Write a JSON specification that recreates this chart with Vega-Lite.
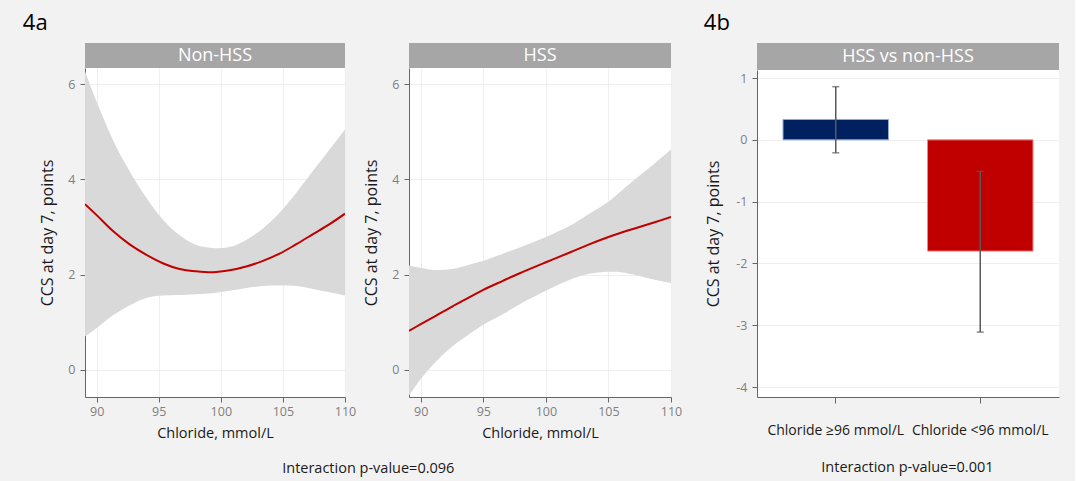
{
  "$schema": "https://vega.github.io/schema/vega-lite/v6.json",
  "background": "#f2f2f2",
  "padding": {"left": 22, "top": 12, "right": 16, "bottom": 8},
  "config": {
    "font": "Open Sans",
    "view": {"stroke": null, "fill": "white"},
    "axis": {
      "labelFont": "Open Sans", "labelColor": "#7f7f7f", "labelFontSize": 12.5,
      "titleFont": "Open Sans", "titleColor": "#1a1a1a", "titleFontWeight": "normal",
      "domainColor": "#666666", "tickColor": "#666666", "gridColor": "#efefef", "tickSize": 5
    },
    "title": {"font": "Open Sans", "fontWeight": "normal", "color": "#000000"}
  },
  "datasets": {
    "curves": [
      {"g": "Non-HSS", "x": 89.06, "fit": 3.48, "lo": 0.70, "hi": 6.27},
      {"g": "Non-HSS", "x": 90.0, "fit": 3.25, "lo": 0.88, "hi": 5.63},
      {"g": "Non-HSS", "x": 91.29, "fit": 2.92, "lo": 1.14, "hi": 4.84},
      {"g": "Non-HSS", "x": 92.63, "fit": 2.64, "lo": 1.35, "hi": 4.18},
      {"g": "Non-HSS", "x": 93.98, "fit": 2.42, "lo": 1.51, "hi": 3.62},
      {"g": "Non-HSS", "x": 95.32, "fit": 2.24, "lo": 1.56, "hi": 3.16},
      {"g": "Non-HSS", "x": 96.67, "fit": 2.12, "lo": 1.57, "hi": 2.83},
      {"g": "Non-HSS", "x": 98.01, "fit": 2.07, "lo": 1.59, "hi": 2.62},
      {"g": "Non-HSS", "x": 99.35, "fit": 2.05, "lo": 1.61, "hi": 2.56},
      {"g": "Non-HSS", "x": 100.70, "fit": 2.09, "lo": 1.66, "hi": 2.58},
      {"g": "Non-HSS", "x": 102.04, "fit": 2.17, "lo": 1.72, "hi": 2.73},
      {"g": "Non-HSS", "x": 103.39, "fit": 2.29, "lo": 1.76, "hi": 2.97},
      {"g": "Non-HSS", "x": 104.73, "fit": 2.44, "lo": 1.77, "hi": 3.30},
      {"g": "Non-HSS", "x": 106.08, "fit": 2.64, "lo": 1.76, "hi": 3.72},
      {"g": "Non-HSS", "x": 107.42, "fit": 2.85, "lo": 1.70, "hi": 4.18},
      {"g": "Non-HSS", "x": 108.76, "fit": 3.06, "lo": 1.63, "hi": 4.63},
      {"g": "Non-HSS", "x": 110.0, "fit": 3.28, "lo": 1.56, "hi": 5.05},
      {"g": "HSS", "x": 89.06, "fit": 0.82, "lo": -0.54, "hi": 2.19},
      {"g": "HSS", "x": 90.0, "fit": 0.96, "lo": -0.19, "hi": 2.14},
      {"g": "HSS", "x": 91.16, "fit": 1.13, "lo": 0.16, "hi": 2.10},
      {"g": "HSS", "x": 92.51, "fit": 1.33, "lo": 0.49, "hi": 2.12},
      {"g": "HSS", "x": 93.86, "fit": 1.52, "lo": 0.75, "hi": 2.21},
      {"g": "HSS", "x": 95.0, "fit": 1.68, "lo": 0.95, "hi": 2.29},
      {"g": "HSS", "x": 96.56, "fit": 1.87, "lo": 1.17, "hi": 2.44},
      {"g": "HSS", "x": 97.91, "fit": 2.03, "lo": 1.38, "hi": 2.57},
      {"g": "HSS", "x": 100.0, "fit": 2.26, "lo": 1.66, "hi": 2.79},
      {"g": "HSS", "x": 101.96, "fit": 2.47, "lo": 1.90, "hi": 3.03},
      {"g": "HSS", "x": 103.31, "fit": 2.62, "lo": 2.01, "hi": 3.25},
      {"g": "HSS", "x": 105.0, "fit": 2.79, "lo": 2.06, "hi": 3.53},
      {"g": "HSS", "x": 106.0, "fit": 2.88, "lo": 2.05, "hi": 3.75},
      {"g": "HSS", "x": 107.35, "fit": 2.99, "lo": 1.98, "hi": 4.05},
      {"g": "HSS", "x": 108.7, "fit": 3.10, "lo": 1.89, "hi": 4.34},
      {"g": "HSS", "x": 110.0, "fit": 3.21, "lo": 1.82, "hi": 4.63}
    ],
    "bars": [
      {"group": "Chloride ≥96 mmol/L", "est": 0.33, "lo": -0.21, "hi": 0.86},
      {"group": "Chloride <96 mmol/L", "est": -1.80, "lo": -3.11, "hi": -0.51}
    ]
  },
  "hconcat": [
    {
      "title": {"text": "Interaction p-value=0.096", "orient": "bottom", "anchor": "middle", "frame": "bounds", "fontSize": 14.5, "offset": 22, "dx": 16, "color": "#1a1a1a"},
      "vconcat": [
        {
          "title": {"text": "4a", "anchor": "start", "frame": "bounds", "fontSize": 22, "dx": -17, "offset": 8},
          "spacing": 7,
          "hconcat": [
            {
              "spacing": 0,
              "bounds": "flush",
              "vconcat": [
                {
                  "width": 260, "height": 25,
                  "view": {"fill": "#a6a6a6", "stroke": null},
                  "data": {"values": [{"label": "Non-HSS"}]},
                  "mark": {"type": "text", "color": "white", "fontSize": 18, "baseline": "middle", "align": "center"},
                  "encoding": {"text": {"field": "label"}}
                },
                {
                  "width": 260, "height": 329,
                  "data": {"name": "curves"},
                  "transform": [{"filter": "datum.g === 'Non-HSS'"}],
                  "layer": [
                    {
                      "mark": {"type": "area", "color": "#d9d9d9", "opacity": 1, "interpolate": "catmull-rom", "clip": true},
                      "encoding": {
                        "x": {"field": "x", "type": "quantitative", "scale": {"domain": [89.06, 110], "nice": false, "zero": false},
                              "axis": {"title": "Chloride, mmol/L", "values": [90, 95, 100, 105, 110], "grid": true, "titleFontSize": 14.5, "titlePadding": 9, "labelPadding": 3, "labelFlush": false}},
                        "y": {"field": "lo", "type": "quantitative", "scale": {"domain": [-0.57, 6.34], "nice": false, "zero": false},
                              "axis": {"title": "CCS at day 7, points", "values": [0, 2, 4, 6], "grid": true, "titleFontSize": 16, "titlePadding": 12, "labelPadding": 5}},
                        "y2": {"field": "hi"}
                      }
                    },
                    {
                      "mark": {"type": "line", "color": "#c00000", "strokeWidth": 2, "interpolate": "catmull-rom", "clip": true},
                      "encoding": {
                        "x": {"field": "x", "type": "quantitative"},
                        "y": {"field": "fit", "type": "quantitative"}
                      }
                    }
                  ]
                }
              ]
            },
            {
              "spacing": 0,
              "bounds": "flush",
              "vconcat": [
                {
                  "width": 262, "height": 25,
                  "view": {"fill": "#a6a6a6", "stroke": null},
                  "data": {"values": [{"label": "HSS"}]},
                  "mark": {"type": "text", "color": "white", "fontSize": 18, "baseline": "middle", "align": "center"},
                  "encoding": {"text": {"field": "label"}}
                },
                {
                  "width": 262, "height": 329,
                  "data": {"name": "curves"},
                  "transform": [{"filter": "datum.g === 'HSS'"}],
                  "layer": [
                    {
                      "mark": {"type": "area", "color": "#d9d9d9", "opacity": 1, "interpolate": "catmull-rom", "clip": true},
                      "encoding": {
                        "x": {"field": "x", "type": "quantitative", "scale": {"domain": [89.06, 110], "nice": false, "zero": false},
                              "axis": {"title": "Chloride, mmol/L", "values": [90, 95, 100, 105, 110], "grid": true, "titleFontSize": 14.5, "titlePadding": 9, "labelPadding": 3, "labelFlush": false}},
                        "y": {"field": "lo", "type": "quantitative", "scale": {"domain": [-0.57, 6.34], "nice": false, "zero": false},
                              "axis": {"title": "CCS at day 7, points", "values": [0, 2, 4, 6], "grid": true, "titleFontSize": 16, "titlePadding": 12, "labelPadding": 5}},
                        "y2": {"field": "hi"}
                      }
                    },
                    {
                      "mark": {"type": "line", "color": "#c00000", "strokeWidth": 2, "interpolate": "catmull-rom", "clip": true},
                      "encoding": {
                        "x": {"field": "x", "type": "quantitative"},
                        "y": {"field": "fit", "type": "quantitative"}
                      }
                    }
                  ]
                }
              ]
            }
          ]
        }
      ]
    },
    {
      "title": {"text": "Interaction p-value=0.001", "orient": "bottom", "anchor": "middle", "frame": "bounds", "fontSize": 14.5, "offset": 24, "dx": 26, "color": "#1a1a1a"},
      "vconcat": [
        {
          "title": {"text": "4b", "anchor": "start", "frame": "bounds", "fontSize": 22, "dx": -2, "offset": 8},
          "spacing": 0,
          "bounds": "flush",
          "vconcat": [
            {
              "width": 302, "height": 27,
              "view": {"fill": "#a6a6a6", "stroke": null},
              "data": {"values": [{"label": "HSS vs non-HSS"}]},
              "mark": {"type": "text", "color": "white", "fontSize": 18, "baseline": "middle", "align": "center"},
              "encoding": {"text": {"field": "label"}}
            },
            {
              "width": 302, "height": 327,
              "data": {"name": "bars"},
              "layer": [
                {
                  "mark": {"type": "bar", "strokeWidth": 1},
                  "encoding": {
                    "x": {"field": "group", "type": "nominal", "sort": null, "scale": {"paddingInner": 0.27, "paddingOuter": 0.18},
                          "axis": {"title": null, "labelAngle": 0, "labelPadding": 20, "tickSize": 6, "labelFontSize": 14, "labelColor": "#1a1a1a", "grid": false, "labelOverlap": false, "labelBound": false}},
                    "y": {"field": "est", "type": "quantitative", "title": "CCS at day 7, points", "scale": {"domain": [-4.16, 1.13], "nice": false},
                          "axis": {"title": "CCS at day 7, points", "values": [-4, -3, -2, -1, 0, 1], "labelExpr": "'' + datum.value", "grid": true, "titleFontSize": 16, "titlePadding": 14, "labelPadding": 5}},
                    "color": {"field": "group", "type": "nominal", "scale": {"domain": ["Chloride ≥96 mmol/L", "Chloride <96 mmol/L"], "range": ["#002060", "#c00000"]}, "legend": null},
                    "stroke": {"field": "group", "type": "nominal", "scale": {"domain": ["Chloride ≥96 mmol/L", "Chloride <96 mmol/L"], "range": ["#8faadc", "#ff7f7f"]}, "legend": null}
                  }
                },
                {
                  "mark": {"type": "errorbar", "ticks": {"size": 7, "thickness": 1.5}, "color": "#595959", "thickness": 1.5},
                  "encoding": {
                    "x": {"field": "group", "type": "nominal", "sort": null},
                    "y": {"field": "lo", "type": "quantitative", "title": "CCS at day 7, points"},
                    "y2": {"field": "hi"}
                  }
                }
              ]
            }
          ]
        }
      ]
    }
  ],
  "spacing": 21
}
